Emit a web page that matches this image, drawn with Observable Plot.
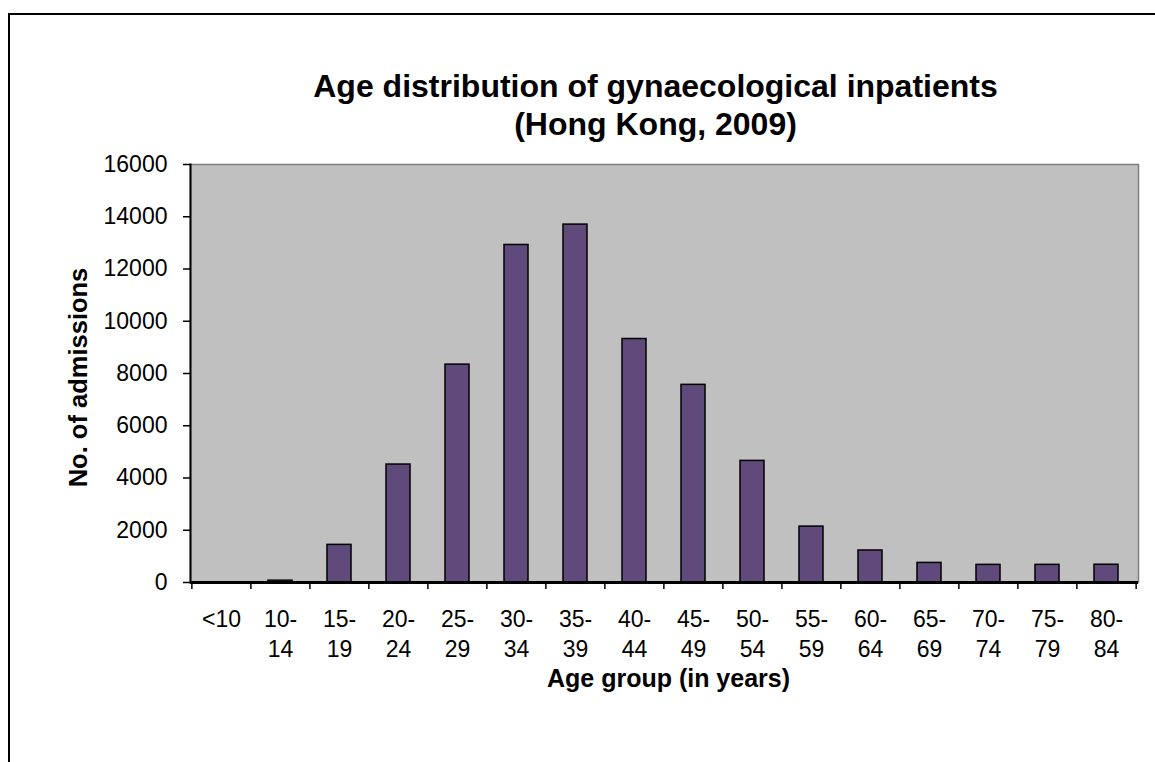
<!DOCTYPE html>
<html>
<head>
<meta charset="utf-8">
<script src="https://cdn.jsdelivr.net/npm/d3@7"></script>
<script src="https://cdn.jsdelivr.net/npm/@observablehq/plot@0.6"></script>
<style>
  html, body { margin: 0; padding: 0; background: #fff; }
  #wrap { position: relative; width: 1155px; height: 762px; overflow: hidden; background: #fff; }
  #border { position: absolute; left: 8px; top: 13px; width: 1300px; height: 900px;
            border-top: 2px solid #000; border-left: 2px solid #000; box-sizing: border-box; }
  #chart { position: absolute; left: 0; top: 0; }
</style>
</head>
<body>
<div id="wrap"><div id="border"></div><div id="chart"></div></div>
<script>
// ---- data ----
const ageGroups = ["<10","10-14","15-19","20-24","25-29","30-34","35-39","40-44","45-49","50-54","55-59","60-64","65-69","70-74","75-79","80-84"];
const admissions = [0, 70, 1440, 4515, 8340, 12920, 13700, 9320, 7565, 4655, 2140, 1225, 750, 675, 675, 680];
const tickLabels = ["<10","10-\n14","15-\n19","20-\n24","25-\n29","30-\n34","35-\n39","40-\n44","45-\n49","50-\n54","55-\n59","60-\n64","65-\n69","70-\n74","75-\n79","80-\n84"];
const yTicks = [0, 2000, 4000, 6000, 8000, 10000, 12000, 14000, 16000];
const titleLines = ["Age distribution of gynaecological inpatients", "(Hong Kong, 2009)"];
const xTitle = "Age group (in years)";
const yTitle = "No. of admissions";

const data = ageGroups.map((a, i) => ({age: a, count: admissions[i]}));
const labelOf = new Map(ageGroups.map((a, i) => [a, tickLabels[i]]));

const W = 1155, H = 762;
const mL = 190, mR = 17, mT = 164, mB = 180;
const step = (W - mL - mR) / ageGroups.length;
const font = "'Liberation Sans', Arial, Helvetica, sans-serif";

const chart = Plot.plot({
  width: W, height: H,
  marginLeft: mL, marginRight: mR, marginTop: mT, marginBottom: mB,
  style: {fontFamily: font, fontSize: "23px", color: "#000", background: "transparent", overflow: "visible"},
  x: {type: "band", domain: ageGroups, paddingInner: 0.59, paddingOuter: 0.295, label: null},
  y: {domain: [0, 16000], label: null},
  marks: [
    Plot.frame({fill: "#C0C0C0", stroke: "#808080", strokeWidth: 1.5}),
    Plot.barY(data, {x: "age", y: "count", fill: "#604A7B", stroke: "#000", strokeWidth: 1.5}),
    Plot.frame({anchor: "left", stroke: "#000", strokeWidth: 2}),
    Plot.ruleY([0], {stroke: "#000", strokeWidth: 3}),
    Plot.axisY({ticks: yTicks, tickSize: 7, tickPadding: 16, tickFormat: d3.format("d"), fontSize: 23, stroke: "#000", strokeWidth: 1.5, label: null}),
    Plot.axisX({tickSize: 7, dx: -step / 2, tickFormat: () => "", stroke: "#000", strokeWidth: 1.5, label: null}),
    Plot.axisX({ticks: [ageGroups[ageGroups.length - 1]], tickSize: 7, dx: step / 2, tickFormat: () => "", stroke: "#000", strokeWidth: 1.5, label: null}),
    Plot.axisX({tickSize: 0, tickPadding: 23, fontSize: 23, lineHeight: 1.3, tickFormat: d => labelOf.get(d), label: null}),
    Plot.text([titleLines[0]], {frameAnchor: "top", dx: -9, dy: -78, fontSize: 32, fontWeight: "bold", lineAnchor: "middle", fill: "#000"}),
    Plot.text([titleLines[1]], {frameAnchor: "top", dx: -9, dy: -40, fontSize: 32, fontWeight: "bold", lineAnchor: "middle", fill: "#000"}),
    Plot.text([xTitle], {frameAnchor: "bottom", dx: 4, dy: 96, fontSize: 25, fontWeight: "bold", lineAnchor: "middle", fill: "#000"}),
    Plot.text([yTitle], {frameAnchor: "left", dx: -112, dy: 4, rotate: -90, textAnchor: "middle", fontSize: 25.5, fontWeight: "bold", lineAnchor: "middle", fill: "#000"})
  ]
});
document.getElementById("chart").appendChild(chart);
</script>
</body>
</html>
